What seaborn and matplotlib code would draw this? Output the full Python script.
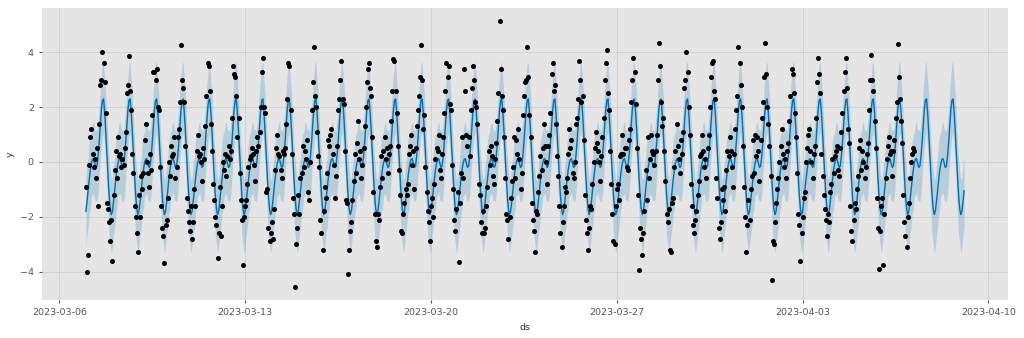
import numpy as np
import pandas as pd
import matplotlib
matplotlib.use("Agg")
import matplotlib.pyplot as plt
import matplotlib.dates as mdates
import seaborn as sns

# ---------------- data ----------------
history_start = "2023-03-07 00:00"
forecast_end = "2023-04-09 02:00"

# observed hourly values, one row per day (03-07 ... 04-07)
obs_by_day = [
    [-0.9, -4.0, -3.4, -0.1, 0.9, 1.2, 0.3, -0.2, 0.1, -0.6, 0.5, -1.6, 1.4, 2.8, 3.0, 4.0, 3.6, 2.9, 1.8, -1.5, -1.7, -2.2, -2.9, -2.1],
    [-3.6, -1.2, -0.3, 0.4, -0.6, 0.9, 0.2, 0.3, -0.2, 0.1, -0.1, 0.5, 1.1, 2.5, 2.8, 3.85, 2.6, 1.9, 0.3, -0.4, -1.6, -2.0, -2.6, -3.3],
    [-1.2, -2.0, -0.5, -1.0, -0.4, 0.8, 1.4, 0.0, -0.4, -0.9, 0.3, -0.3, 1.7, 3.3, 3.3, 3.0, 3.4, 2.0, 1.9, -0.2, -1.6, -2.4, -2.7, -3.7],
    [-2.3, -2.1, -1.3, 0.0, -0.5, 0.6, 0.2, 0.3, 0.9, -0.6, -0.2, 0.9, 1.2, 2.2, 4.25, 3.0, 2.7, 2.2, 0.6, -1.3, -1.8, -2.2, -2.5, -1.6],
    [-2.8, -2.2, -1.0, -1.6, 0.4, 1.0, 0.2, 0.3, 0.0, -0.7, 0.5, 0.1, 1.3, 2.4, 3.6, 3.5, 2.6, 1.4, 0.4, -0.8, -1.4, -2.0, -2.3, -3.5],
    [-2.6, -0.9, -2.7, -1.6, 0.0, -0.3, 0.3, -0.5, 0.2, 0.6, 0.1, 0.4, 1.6, 3.5, 3.2, 3.1, 2.4, 0.9, 1.6, -0.4, -1.4, -2.1, -3.75, -2.0],
    [-1.6, -1.4, -0.8, -0.2, 0.1, 0.2, 0.5, 0.3, -0.1, -0.7, 0.4, 0.9, 0.6, 1.1, 2.0, 3.3, 3.8, 2.0, 1.8, -1.1, -1.0, -2.4, -2.9, -2.6],
    [-2.2, -2.8, -1.7, -0.3, 0.5, 1.0, 0.3, 0.2, -0.3, -0.6, 0.4, 0.3, 0.5, 1.4, 2.3, 3.6, 3.5, 1.9, 0.3, -1.3, -1.9, -4.55, -3.0, -2.4],
    [-1.2, -1.9, -0.6, -0.4, 0.6, -0.2, 0.4, 0.1, 0.8, -1.1, -1.4, 0.0, 1.9, 2.9, 4.2, 2.4, 2.0, 1.1, 0.2, -0.2, -2.1, -2.6, -3.2, -1.8],
    [-0.9, -1.3, -0.4, 0.8, 0.6, 1.0, 1.2, 0.3, -0.1, -1.3, -0.5, 0.6, 1.9, 2.3, 3.0, 3.7, 2.3, 2.1, 0.4, -1.4, -1.5, -4.1, -3.2, -2.5],
    [-2.2, -1.4, -0.7, 0.3, -0.4, 0.7, 1.5, 0.1, 0.4, -0.6, -0.1, 0.5, 1.3, 2.0, 2.9, 3.4, 3.6, 2.7, 2.4, 0.9, -1.1, -1.9, -2.9, -3.1],
    [-1.9, -2.1, -0.9, 0.2, -0.6, 0.4, 0.9, 0.1, 0.5, -0.4, 0.3, 0.6, 1.5, 2.6, 3.75, 3.7, 2.6, 1.8, 0.6, -0.3, -1.2, -2.5, -2.6, -1.9],
    [-1.5, -1.0, -1.2, -0.8, 0.3, 0.6, 1.0, -0.1, 0.4, -1.0, 0.5, 1.3, 1.9, 2.4, 3.1, 4.25, 3.0, 1.2, 1.7, -0.2, -1.1, -1.8, -2.2, -2.9],
    [-1.6, -1.3, -2.0, -0.8, 0.1, 0.5, 0.4, 1.0, -0.3, -0.6, 0.3, 0.9, 1.8, 2.6, 3.6, 3.1, 3.5, 2.1, 1.9, -0.1, -1.0, -2.1, -2.5, -1.7],
    [-1.1, -3.65, -1.5, -0.4, 0.9, -0.6, 3.4, 2.6, 1.0, 0.6, 0.9, 0.2, 1.9, 2.7, 3.5, 3.0, 2.2, 2.0, 1.4, -0.8, -1.2, -2.2, -2.6, -1.8],
    [-2.6, -2.4, -1.6, -0.9, 0.4, -0.1, 0.6, 0.2, -0.5, -0.8, 0.1, 0.7, 1.5, 2.5, 5.15, 3.4, 2.4, 1.9, 0.9, -0.6, -1.9, -2.1, -2.8, -2.0],
    [-1.3, -0.7, -0.2, 0.9, -0.6, 0.8, 0.3, 1.2, 0.1, -1.0, -0.4, 1.7, 2.4, 2.9, 3.0, 4.2, 3.1, 1.7, 0.9, -1.5, -2.1, -2.5, -3.3, -1.8],
    [-1.9, -1.1, -0.5, 0.2, -0.3, 0.5, 1.4, 0.6, 0.0, -0.8, 0.6, 1.0, 1.8, 3.2, 3.6, 2.6, 2.8, 1.4, 0.2, -0.5, -1.6, -2.6, -3.1, -2.2],
    [-1.6, -0.9, -1.1, -0.6, 0.3, 1.2, 0.5, 0.8, -0.4, -0.6, 0.0, 1.4, 1.6, 2.3, 3.7, 3.0, 2.2, 2.4, 0.8, -1.2, -2.1, -2.6, -3.2, -2.4],
    [-1.6, -1.7, -0.8, 0.0, 0.5, 1.1, 0.7, 0.4, 0.0, -0.7, 0.2, 0.9, 1.6, 3.0, 3.6, 4.1, 2.5, 1.9, 0.4, -0.8, -1.9, -2.9, -3.0, -1.6],
    [-1.0, -0.8, -1.4, 0.2, 0.3, 1.0, 0.3, 0.5, 0.5, -0.2, -0.3, 0.8, 1.2, 2.2, 3.0, 3.8, 3.3, 2.1, 0.5, -1.2, -3.95, -2.4, -2.8, -3.4],
    [-2.6, -1.8, -0.3, -1.4, 0.9, -0.6, 0.1, 1.0, 0.4, 0.3, -0.1, 0.4, 1.0, 3.0, 4.35, 3.5, 2.2, 1.3, 1.6, 0.4, -0.7, -1.9, -2.2, -1.7],
    [-3.2, -3.3, -1.5, -1.3, -0.2, 0.4, 1.4, 0.6, 0.1, -0.4, 0.8, 0.3, 1.1, 2.7, 3.0, 4.0, 3.3, 2.0, 1.0, -0.8, -1.6, -2.3, -2.6, -2.1],
    [-1.8, -1.2, -0.7, 0.2, 0.3, 1.0, 0.4, -0.2, 0.1, -0.6, 0.5, 1.0, 2.0, 3.1, 3.6, 3.7, 2.6, 2.3, -0.6, -1.3, -2.4, -2.8, -2.2, -1.0],
    [-1.4, -0.9, -1.8, -0.3, 0.4, 0.2, 0.9, 0.4, -0.2, -0.9, 0.3, 1.2, 1.9, 2.4, 4.2, 3.6, 2.8, 2.0, 0.6, -0.9, -2.0, -3.3, -2.3, -1.4],
    [-2.1, -1.0, -0.5, 0.8, -0.4, 1.0, 0.2, 0.9, 0.4, -0.7, 0.8, 1.6, 2.2, 3.1, 4.35, 3.2, 2.0, 1.4, 0.6, -0.5, -4.3, -2.9, -3.0, -2.2],
    [-1.5, -1.0, -0.6, 0.0, 0.6, 1.2, 0.3, -0.2, 0.1, -0.6, 0.4, 0.7, 1.5, 2.4, 3.4, 3.2, 2.5, 1.8, 0.9, -0.4, -1.9, -2.3, -3.6, -2.6],
    [-2.0, -1.3, -1.1, 0.0, 0.5, 1.0, 1.2, 0.4, 0.0, -0.6, 0.3, 0.6, 1.6, 2.9, 3.8, 3.2, 2.5, 0.3, -0.5, -1.2, -1.7, -2.1, -2.7, -1.9],
    [-2.2, -1.1, -0.8, 0.1, -0.4, 0.2, 0.4, 0.6, -0.3, -0.5, 0.5, 1.1, 1.8, 2.6, 3.3, 3.8, 2.7, 1.2, 0.7, -1.6, -2.5, -2.9, -2.1, -1.5],
    [-1.7, -1.0, -0.5, 0.5, 0.8, -0.3, 0.4, 0.0, -0.6, -0.2, 0.3, 0.7, 1.9, 3.0, 3.9, 3.0, 2.6, 1.5, 0.5, -1.3, -2.4, -3.9, -2.5, -1.6],
    [-1.3, -3.75, -1.9, -0.6, 0.1, 0.6, 0.9, 0.3, 0.4, -0.5, 0.4, 0.8, 1.6, 2.2, 4.3, 3.1, 2.3, 1.5, 0.7, -1.2, -2.2, -2.7, -3.1, -2.0],
    [-1.5, -0.6, 0.0, 0.3, 0.5, 0.4],
]

# forecast (yhat) daily profile by hour of day 0..23
yhat_by_hour = [-1.8, -1.45, -1.05, -0.65, -0.3, -0.05, 0.1, 0.12, -0.05, -0.2, -0.15, 0.2,
                0.7, 1.3, 1.9, 2.25, 2.3, 1.8, 1.1, 0.3, -0.5, -1.2, -1.7, -1.92]
# uncertainty interval offsets by hour of day
upper_by_hour = [1.25, 1.35, 1.2, 1.4, 1.3, 1.15, 1.3, 1.35, 1.2, 1.4, 1.25, 1.3,
                 1.2, 1.35, 1.25, 1.4, 1.3, 1.2, 1.35, 1.25, 1.2, 1.3, 1.4, 1.25]
lower_by_hour = [1.3, 1.2, 1.35, 1.25, 1.4, 1.2, 1.3, 1.25, 1.35, 1.2, 1.3, 1.4,
                 1.25, 1.2, 1.35, 1.3, 1.25, 1.4, 1.2, 1.3, 1.35, 1.45, 1.3, 1.4]

x_tick_labels = ["2023-03-06", "2023-03-13", "2023-03-20", "2023-03-27",
                 "2023-04-03", "2023-04-10"]
y_ticks = [-4, -2, 0, 2, 4]

# ---------------- frames ----------------
obs_y = [v for day in obs_by_day for v in day]
hist = pd.DataFrame({"ds": pd.date_range(history_start, periods=len(obs_y), freq="h"),
                     "y": obs_y})
fc_ds = pd.date_range(history_start, forecast_end, freq="h")
hours = fc_ds.hour
yhat = np.array(yhat_by_hour)[hours]
fcst = pd.DataFrame({"ds": fc_ds, "yhat": yhat,
                     "yhat_upper": yhat + np.array(upper_by_hour)[hours],
                     "yhat_lower": yhat - np.array(lower_by_hour)[hours]})

# ---------------- style ----------------
s = 0.6827  # scale of a 15x5in / 68dpi figure to 100 dpi
plt.style.use("ggplot")
plt.rcParams.update({
    "font.family": ["DejaVu Sans"],
    "font.size": 10 * s,
    "axes.labelsize": 10 * s,
    "xtick.labelsize": 10 * s,
    "ytick.labelsize": 10 * s,
    "xtick.major.size": 3.5 * s,
    "ytick.major.size": 3.5 * s,
    "axes.labelcolor": "#333333",
})

fig, ax = plt.subplots(figsize=(10.24, 3.38), dpi=100)
fig.subplots_adjust(left=0.041, right=0.9844, bottom=0.1124, top=0.9778)

sns.scatterplot(data=hist, x="ds", y="y", color="k", s=13, linewidth=0, ax=ax, zorder=3)
sns.lineplot(data=fcst, x="ds", y="yhat", color="#0072B2", lw=1.5 * s, estimator=None, ax=ax, zorder=2)
ax.fill_between(fcst["ds"], fcst["yhat_lower"], fcst["yhat_upper"], color="#0072B2", alpha=0.2,
                linewidth=0, zorder=1)

ax.grid(True, which="major", c="gray", ls="-", lw=1 * s, alpha=0.2)
ax.set_xticks(pd.to_datetime(x_tick_labels))
ax.xaxis.set_major_formatter(mdates.DateFormatter("%Y-%m-%d"))
ax.set_yticks(y_ticks)
ax.set_xlabel("ds")
ax.set_ylabel("y")
ax.margins(x=0.05, y=0.05)
for sp in ax.spines.values():
    sp.set_visible(False)

fig.savefig("out.png", dpi=100)
